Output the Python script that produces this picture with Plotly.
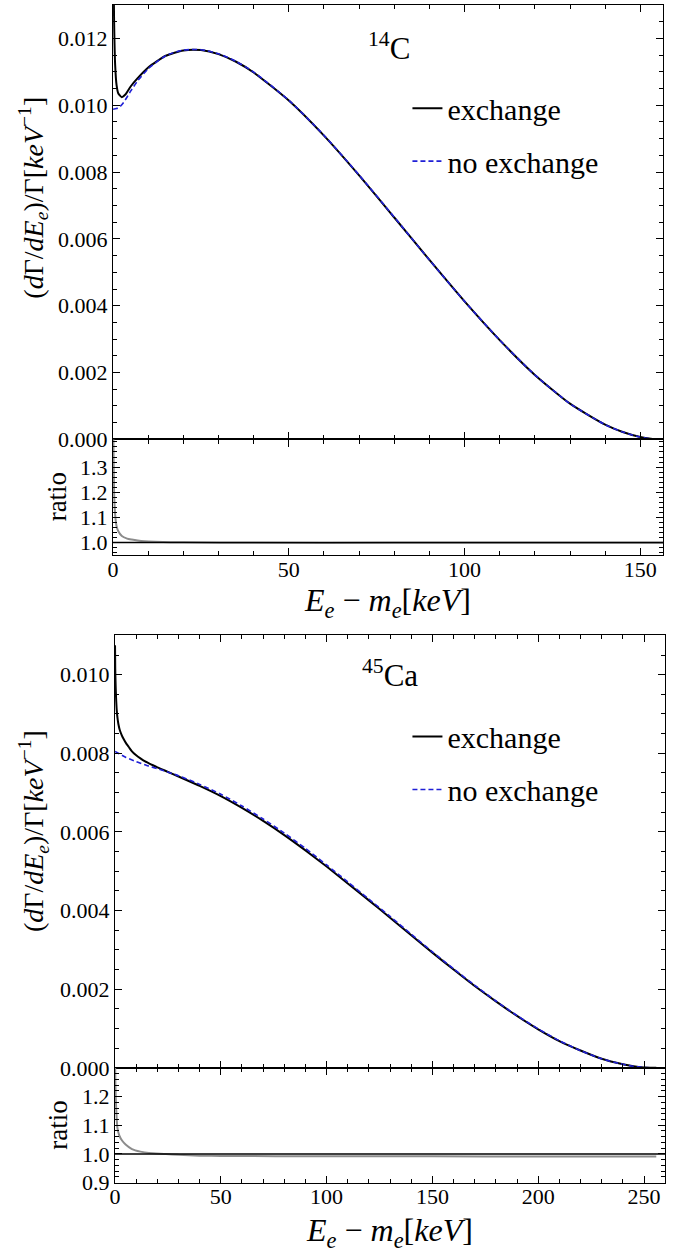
import plotly.graph_objects as go

# ---------------- data ----------------
# 14C : dGamma/dE / Gamma  [keV^-1]
c14_E_noex = [0, 1, 2, 3, 5, 7, 10, 15, 20, 25, 30, 35, 40, 50, 60, 70, 80, 90,
              100, 110, 120, 130, 140, 145, 150, 153, 156.5]
c14_noex = [0.00988, 0.00990, 0.00996, 0.01008, 0.01042, 0.01073, 0.01109, 0.01148,
            0.01165, 0.01166, 0.01154, 0.01131, 0.01099, 0.01015, 0.00910, 0.00791,
            0.00665, 0.00537, 0.00413, 0.00297, 0.00193, 0.00107, 0.00044, 0.00022,
            0.00007, 0.00002, 0.0]
c14_E_ex = [0, 0.15, 0.3, 0.6, 1.0, 1.5, 2.5, 3.5, 5, 7, 10, 15, 20, 25, 30, 35, 40,
            50, 60, 70, 80, 90, 100, 110, 120, 130, 140, 145, 150, 153, 156.5]
c14_ex = [0.0160, 0.0140, 0.0125, 0.01120, 0.01060, 0.01035, 0.01024, 0.01032,
          0.01056, 0.01081, 0.01113, 0.01148, 0.01164, 0.01165, 0.01153, 0.01130,
          0.01098, 0.01014, 0.00909, 0.00790, 0.00664, 0.00537, 0.00413, 0.00297,
          0.00193, 0.00107, 0.00044, 0.00022, 0.00007, 0.00002, 0.0]
c14_E_ratio = [0, 0.1, 0.3, 0.6, 1.0, 1.5, 2.5, 4, 5.3, 7, 9, 12, 20, 40, 80, 120, 156.5]
c14_ratio = [1.60, 1.42, 1.20, 1.11, 1.065, 1.045, 1.026, 1.016, 1.012, 1.008, 1.005,
             1.003, 1.001, 0.999, 0.999, 0.999, 0.999]

# 45Ca
ca45_E_noex = [0, 2, 5, 10, 15, 20, 30, 40, 50, 60, 70, 80, 90, 100, 110, 120, 130,
               140, 150, 160, 170, 180, 190, 200, 210, 220, 230, 240, 245, 250, 253, 255.8]
ca45_noex = [0.00805, 0.00799, 0.00790, 0.00779, 0.00769, 0.00761, 0.00743, 0.00721,
             0.00696, 0.00666, 0.00633, 0.00597, 0.00558, 0.00516, 0.00473, 0.00429,
             0.00385, 0.00340, 0.00295, 0.00252, 0.00210, 0.00170, 0.00133, 0.00099,
             0.00069, 0.00044, 0.00023, 0.00009, 0.00004, 0.00001, 0.000003, 0.0]
ca45_E_ex = [0, 0.1, 0.3, 0.5, 0.8, 1.2, 1.6, 2.2, 3.1, 4, 5.4, 6.5, 8, 10, 12, 14, 17,
             20, 24, 30, 40, 50, 60, 70, 80, 90, 100, 110, 120, 130, 140, 150, 160,
             170, 180, 190, 200, 210, 220, 230, 240, 245, 250, 253, 255.8]
ca45_ex = [0.01075, 0.01015, 0.00970, 0.00940, 0.00910, 0.00888, 0.00874, 0.00860,
           0.00847, 0.00837, 0.00824, 0.00816, 0.00805, 0.00795, 0.00787, 0.00780,
           0.00772, 0.00764, 0.00755, 0.00741, 0.00717, 0.00691, 0.00661, 0.00628,
           0.00592, 0.00553, 0.00512, 0.00469, 0.00426, 0.00382, 0.00337, 0.00293,
           0.00250, 0.00208, 0.00169, 0.00132, 0.00098, 0.00068, 0.00044, 0.00023,
           0.00009, 0.00004, 0.00001, 0.000003, 0.0]
ca45_E_ratio = [0, 0.15, 0.3, 0.6, 1.1, 2, 3.4, 5, 8, 12, 16, 24, 30, 40, 50, 100,
                150, 200, 255.8]
ca45_ratio = [1.34, 1.25, 1.207, 1.15, 1.092, 1.065, 1.046, 1.033, 1.017, 1.008,
              1.003, 1.000, 0.997, 0.994, 0.993, 0.992, 0.992, 0.991, 0.991]

panels = [
    dict(label="<sup>14</sup>C", Eex=c14_E_ex, ex=c14_ex, Enx=c14_E_noex, nx=c14_noex,
         Er=c14_E_ratio, r=c14_ratio, xmax=156.5, ymax=0.013, rrange=[0.95, 1.41],
         rticks=[1.0, 1.1, 1.2, 1.3]),
    dict(label="<sup>45</sup>Ca", Eex=ca45_E_ex, ex=ca45_ex, Enx=ca45_E_noex, nx=ca45_noex,
         Er=ca45_E_ratio, r=ca45_ratio, xmax=260, ymax=0.011, rrange=[0.9, 1.3],
         rticks=[0.9, 1.0, 1.1, 1.2]),
]

# ---------------- layout geometry (pixels) ----------------
W, H = 683, 1257
geo = [
    dict(x0=108, x1=663, m0=5, m1=444, r1=561, legy=83, lab=(386, 47),
         ytit=(28, 200), rtit=(51, 502), xtit=(385, 609)),
    dict(x0=110, x1=665, m0=642, m1=1079, r1=1195, legy=718, lab=(387, 681),
         ytit=(28, 840), rtit=(53, 1137), xtit=(387, 1245)),
]
FONT = "'Liberation Serif', 'Times New Roman', serif"
BLUE = "#1f1fd6"
GRAY = "#8c8c8c"

fig = go.Figure()
layout = dict(width=W, height=H, margin=dict(l=0, r=0, t=0, b=0),
              paper_bgcolor="white", plot_bgcolor="white",
              font=dict(family=FONT, color="black", size=22), annotations=[], shapes=[])

def fx(px):
    return px / W

def fy(px):
    return 1 - px / H

ax_common = dict(showgrid=False, zeroline=False, showline=True, linecolor="black",
                 linewidth=1.2, mirror="allticks", ticks="inside", ticklen=7,
                 tickwidth=1, tickcolor="black",
                 tickfont=dict(family=FONT, size=22, color="black"))

for i, (p, g) in enumerate(zip(panels, geo)):
    n = 2 * i + 1
    xm, ym = f"x{n if n > 1 else ''}", f"y{n if n > 1 else ''}"
    xr, yr = f"x{n + 1}", f"y{n + 1}"
    leg = "legend" if i == 0 else "legend2"

    fig.add_trace(go.Scatter(x=p["Eex"], y=p["ex"], mode="lines", name="exchange",
                             line=dict(color="black", width=2, shape="spline", smoothing=0.6),
                             xaxis=xm, yaxis=ym, legend=leg, legendgroup=f"ex{i}"))
    fig.add_trace(go.Scatter(x=p["Enx"], y=p["nx"], mode="lines", name="no exchange",
                             line=dict(color=BLUE, width=1.6, dash="5px,3px", shape="spline",
                                       smoothing=0.6),
                             xaxis=xm, yaxis=ym, legend=leg, legendgroup=f"nx{i}"))
    fig.add_trace(go.Scatter(x=p["Er"], y=p["r"], mode="lines", showlegend=False,
                             line=dict(color=GRAY, width=2, shape="spline", smoothing=0.6),
                             xaxis=xr, yaxis=yr))

    xdom = [fx(g["x0"]), fx(g["x1"])]
    layout[f"xaxis{n if n > 1 else ''}"] = dict(
        ax_common, domain=xdom, range=[0, p["xmax"]], anchor=ym, matches=xr,
        showticklabels=False, dtick=50, tick0=0,
        minor=dict(ticks="inside", ticklen=4, dtick=10, tick0=0, tickcolor="black"))
    layout[f"xaxis{n + 1}"] = dict(
        ax_common, domain=xdom, range=[0, p["xmax"]], anchor=yr, dtick=50, tick0=0,
        ticklabelstandoff=-6,
        minor=dict(ticks="inside", ticklen=4, dtick=10, tick0=0, tickcolor="black"))
    layout[f"yaxis{n if n > 1 else ''}"] = dict(
        ax_common, domain=[fy(g["m1"]), fy(g["m0"])], range=[0, p["ymax"]],
        anchor=xm, dtick=0.002, tick0=0, tickformat=".3f",
        minor=dict(ticks="inside", ticklen=4, dtick=0.0005, tick0=0, tickcolor="black"))
    layout[f"yaxis{n + 1}"] = dict(
        ax_common, domain=[fy(g["r1"]), fy(g["m1"])], range=p["rrange"], anchor=xr,
        tickmode="array", tickvals=p["rticks"], tickformat=".1f",
        minor=dict(ticks="inside", ticklen=4, tickmode="linear", dtick=0.02, tick0=0.9,
                   tickcolor="black"))

    layout[leg] = dict(x=fx(405), y=fy(g["legy"]), xanchor="left", yanchor="top",
                       bgcolor="rgba(0,0,0,0)", font=dict(family=FONT, size=30),
                       tracegroupgap=11, traceorder="grouped")

    layout["shapes"].append(dict(type="line", xref=f"{xr} domain", x0=0, x1=1, yref=yr,
                                 y0=1, y1=1, line=dict(color="black", width=1.5)))

    ann = layout["annotations"]
    common = dict(xref="paper", yref="paper", showarrow=False, xanchor="center",
                  yanchor="middle")
    ann.append(dict(common, text=p["label"], x=fx(g["lab"][0]), y=fy(g["lab"][1]),
                    font=dict(family=FONT, size=31)))
    ann.append(dict(common,
                    text="(<i>d</i>Γ/<i>dE</i><sub><i>e</i></sub>)/Γ[<i>keV</i><sup>−1</sup>]",
                    x=fx(g["ytit"][0]), y=fy(g["ytit"][1]), textangle=-90,
                    font=dict(family=FONT, size=28)))
    ann.append(dict(common, text="ratio", x=fx(g["rtit"][0]), y=fy(g["rtit"][1]),
                    textangle=-90, font=dict(family=FONT, size=27)))
    ann.append(dict(common,
                    text="<i>E</i><sub><i>e</i></sub> − <i>m</i><sub><i>e</i></sub>[<i>keV</i>]",
                    x=fx(g["xtit"][0]), y=fy(g["xtit"][1]),
                    font=dict(family=FONT, size=32)))

fig.update_layout(**layout)
fig.write_html("out.html")
